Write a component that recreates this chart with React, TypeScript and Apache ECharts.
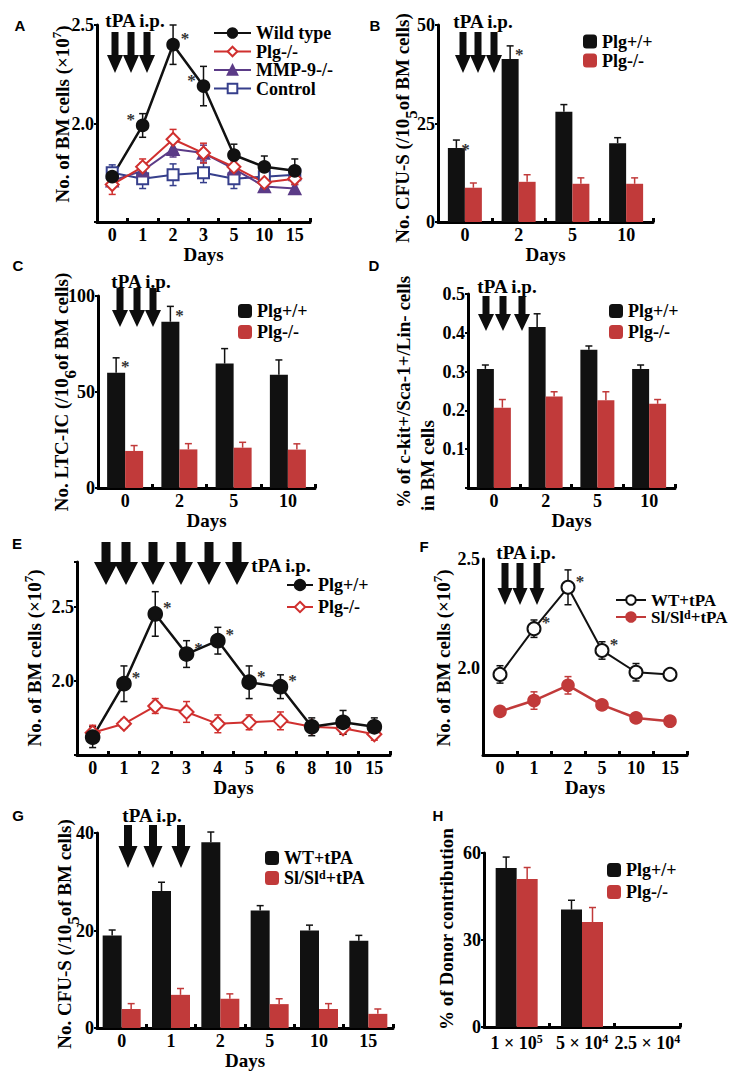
import React, { useEffect, useRef } from "react";
import * as echarts from "echarts";

// ---------- DATA ----------
// Panel A
const daysA = ["0", "1", "2", "3", "5", "10", "15"];
const aWild = [1.73, 1.99, 2.4, 2.19, 1.84, 1.78, 1.76];
const aWildErr = [0.03, 0.06, 0.1, 0.1, 0.055, 0.055, 0.06];
const aPlg = [1.69, 1.78, 1.92, 1.85, 1.78, 1.7, 1.72];
const aPlgErr = [0.05, 0.04, 0.05, 0.05, 0.04, 0.03, 0.03];
const aMmp = [1.71, 1.76, 1.87, 1.85, 1.77, 1.68, 1.67];
const aMmpErr = [0.03, 0.04, 0.04, 0.04, 0.04, 0.02, 0.02];
const aCtrl = [1.75, 1.72, 1.74, 1.75, 1.72, 1.73, 1.74];
const aCtrlErr = [0.04, 0.05, 0.055, 0.05, 0.05, 0.03, 0.03];
const aStars = [0, -1, 1, -1, 0, 0, 0];

// Panel B
const daysB = ["0", "2", "5", "10"];
const bPos = [18.8, 41.4, 28.0, 20.0];
const bPosErr = [2.0, 3.3, 1.8, 1.4];
const bNeg = [8.7, 10.2, 9.7, 9.7];
const bNegErr = [1.2, 1.8, 1.5, 1.5];
const bStars = [1, 1, 0, 0];

// Panel C
const daysC = ["0", "2", "5", "10"];
const cPos = [60, 86.6, 64.8, 59];
const cPosErr = [7.8, 8, 7.8, 7.7];
const cNeg = [19.3, 20.1, 21, 20];
const cNegErr = [2.8, 3, 2.8, 3];
const cStars = [1, 1, 0, 0];

// Panel D
const daysD = ["0", "2", "5", "10"];
const dPos = [0.307, 0.415, 0.356, 0.307];
const dPosErr = [0.01, 0.034, 0.01, 0.01];
const dNeg = [0.207, 0.236, 0.226, 0.217];
const dNegErr = [0.021, 0.012, 0.022, 0.011];

// Panel E
const daysE = ["0", "1", "2", "3", "4", "5", "6", "8", "10", "15"];
const ePos = [1.62, 1.98, 2.45, 2.18, 2.27, 1.99, 1.96, 1.69, 1.72, 1.69];
const ePosErr = [0.07, 0.12, 0.15, 0.09, 0.09, 0.11, 0.08, 0.06, 0.08, 0.06];
const eNeg = [1.65, 1.71, 1.83, 1.79, 1.71, 1.72, 1.73, 1.69, 1.68, 1.64];
const eNegErr = [0.05, 0.03, 0.05, 0.07, 0.06, 0.05, 0.06, 0.03, 0.04, 0.04];
const eStars = [0, 1, 1, 1, 1, 1, 1, 0, 0, 0];

// Panel F
const daysF = ["0", "1", "2", "5", "10", "15"];
const fWT = [1.97, 2.18, 2.37, 2.08, 1.98, 1.97];
const fWTErr = [0.04, 0.04, 0.08, 0.04, 0.04, 0.01];
const fSl = [1.8, 1.85, 1.92, 1.83, 1.77, 1.755];
const fSlErr = [0.015, 0.04, 0.04, 0.01, 0.01, 0.01];
const fStars = [0, 1, 1, 1, 0, 0];

// Panel G
const daysG = ["0", "1", "2", "5", "10", "15"];
const gWT = [19, 28.1, 38.1, 24.1, 20, 17.9];
const gWTErr = [1.1, 1.8, 2.1, 1.0, 1.1, 1.1];
const gSl = [3.9, 6.8, 6.0, 4.9, 3.9, 2.9];
const gSlErr = [1.1, 1.3, 1.0, 1.1, 1.1, 1.0];

// Panel H
const cellsH = ["1 × 10^5^", "5 × 10^4^", "2.5 × 10^4^"];
const hPos = [54.8, 40.5, null];
const hPosErr = [3.8, 3.2, 0];
const hNeg = [51, 36.2, null];
const hNegErr = [4, 5, 0];

// ---------- STYLE ----------
const SERIF = '"Liberation Serif", "Times New Roman", serif';
const SANS = '"Liberation Sans", Arial, sans-serif';
const BLACK = "#111111";
const RED = "#c13a3a";
const LRED = "#d0302f";
const PURPLE = "#5b3b87";
const NAVY = "#363f8c";

function richText(t: string, k = "s") {
  const parts = t.split("^");
  return parts
    .map((p, i) => (p === "" ? "" : `{${i % 2 ? k : "n"}|${p}}`))
    .join("");
}
function richStyles(fs: number, lh: number) {
  return {
    n: { fontFamily: SERIF, fontWeight: "bold", fontSize: fs, lineHeight: lh, color: "#000" },
    s: { fontFamily: SERIF, fontWeight: "bold", fontSize: Math.round(fs * 0.68), lineHeight: Math.round(fs * 0.7), verticalAlign: "top", color: "#000" },
  };
}
// exponent placed low, as in the original rotated titles "/10^5of"
const lowRich = {
  n: { fontFamily: SERIF, fontWeight: "bold", fontSize: 19, lineHeight: 22, verticalAlign: "top", color: "#000" },
  l: { fontFamily: SERIF, fontWeight: "bold", fontSize: 17, lineHeight: 17, padding: [10, 0, 0, 0], verticalAlign: "top", color: "#000" },
};
function fmtName(n: string) {
  const t = n.split("|")[1];
  return t.indexOf("^") >= 0 ? richText(t) : t;
}

const grids = [
  { left: 97, top: 25, width: 213, height: 197 }, // A
  { left: 438, top: 25, width: 215, height: 197 }, // B
  { left: 98, top: 296, width: 217, height: 192 }, // C
  { left: 468, top: 294, width: 207, height: 194 }, // D
  { left: 77, top: 562, width: 313, height: 193 }, // E
  { left: 483, top: 559, width: 204, height: 196 }, // F
  { left: 97, top: 833, width: 296, height: 195 }, // G
  { left: 484, top: 853, width: 196, height: 174 }, // H
];

function xAx(gi: number, data: string[], extra: any = {}) {
  return {
    type: "category",
    gridIndex: gi,
    data,
    boundaryGap: true,
    axisLine: { onZero: false, lineStyle: { color: "#000", width: 3 } },
    axisTick: { show: true, inside: true, length: 4, interval: 0, lineStyle: { color: "#000", width: 3 } },
    axisLabel: { interval: 0, margin: 4, color: "#000", fontFamily: SERIF, fontWeight: "bold", fontSize: 18 },
    splitLine: { show: false },
    name: "Days",
    nameLocation: "middle",
    nameGap: 19,
    nameTextStyle: { color: "#000", fontFamily: SERIF, fontWeight: "bold", fontSize: 19 },
    ...extra,
  };
}
function yAx(gi: number, min: number, max: number, interval: number, shown: number[] | null, dec: number, ticks = true) {
  return {
    type: "value",
    gridIndex: gi,
    min,
    max,
    interval,
    axisLine: { show: true, onZero: false, lineStyle: { color: "#000", width: 3 } },
    axisTick: { show: ticks, length: 3, lineStyle: { color: "#000", width: 2 } },
    splitLine: { show: false },
    axisLabel: {
      margin: 3,
      color: "#000",
      fontFamily: SERIF,
      fontWeight: "bold",
      fontSize: 18,
      formatter: (v: number) =>
        shown && !shown.some((s) => Math.abs(s - v) < 1e-6) ? "" : v.toFixed(dec),
    },
  };
}
function lineS(name: string, gi: number, data: number[], color: string, symbol: string, size: number, lw: number) {
  return {
    type: "line",
    name,
    xAxisIndex: gi,
    yAxisIndex: gi,
    data,
    symbol,
    symbolSize: size,
    showAllSymbol: true,
    lineStyle: { color, width: lw },
    itemStyle: { color, borderColor: color, borderWidth: 1.6 },
    z: 3,
    emphasis: { disabled: true },
  };
}
function barS(name: string, gi: number, data: (number | null)[], color: string, bw: number) {
  return {
    type: "bar",
    name,
    xAxisIndex: gi,
    yAxisIndex: gi,
    data,
    barWidth: bw,
    barGap: "0%",
    itemStyle: { color },
    z: 2,
    emphasis: { disabled: true },
  };
}
function errS(
  gi: number,
  vals: (number | null)[],
  errs: number[],
  stars: number[] | null,
  color: string,
  offset: number,
  both: boolean
) {
  const data = vals.map((v, i) => [i, v == null ? 0 : v, v == null ? 0 : errs[i], stars ? stars[i] : 0]);
  return {
    type: "custom",
    xAxisIndex: gi,
    yAxisIndex: gi,
    data,
    encode: { x: 0, y: 1 },
    z: both ? 1 : 4,
    silent: true,
    renderItem: (params: any, api: any) => {
      const i = api.value(0);
      const v = api.value(1);
      const e = api.value(2);
      const st = api.value(3);
      const c = api.coord([i, v]);
      const top = api.coord([i, v + e]);
      const bot = api.coord([i, v - e]);
      const x = c[0] + offset;
      const cap = 3.5;
      const ls = { stroke: color, lineWidth: 1.5 };
      const ch: any[] = [];
      if (e > 0) {
        ch.push({ type: "line", shape: { x1: x, y1: both ? bot[1] : c[1], x2: x, y2: top[1] }, style: ls });
        ch.push({ type: "line", shape: { x1: x - cap, y1: top[1], x2: x + cap, y2: top[1] }, style: ls });
        if (both) ch.push({ type: "line", shape: { x1: x - cap, y1: bot[1], x2: x + cap, y2: bot[1] }, style: ls });
      }
      if (st) {
        const sx = both ? c[0] + st * 12 : x + 9;
        const sy = both ? c[1] - 6 : top[1] + 9;
        ch.push({
          type: "text",
          x: sx,
          y: sy,
          style: {
            text: "*",
            fill: "#333",
            font: `bold 17px ${SERIF}`,
            textAlign: "center",
            textVerticalAlign: "middle",
            align: "center",
            verticalAlign: "middle",
          },
        });
      }
      return { type: "group", children: ch };
    },
  };
}
function legend(names: string[], left: number, top: number, o: { w: number; h: number; gap: number; fs: number; lh: number }) {
  return {
    data: names,
    left,
    top,
    orient: "vertical",
    padding: 0,
    itemGap: o.gap,
    itemWidth: o.w,
    itemHeight: o.h,
    selectedMode: false,
    textStyle: { color: "#000", fontFamily: SERIF, fontWeight: "bold", fontSize: o.fs, lineHeight: o.lh, rich: richStyles(o.fs, o.lh) },
    formatter: (n: string) => fmtName(n),
  };
}

function arrow(cx: number, top: number, bottom: number, sw: number, hw: number, hh: number) {
  return {
    type: "polygon",
    silent: true,
    shape: {
      points: [
        [cx - sw / 2, top],
        [cx + sw / 2, top],
        [cx + sw / 2, bottom - hh],
        [cx + hw / 2, bottom - hh],
        [cx, bottom],
        [cx - hw / 2, bottom - hh],
        [cx - sw / 2, bottom - hh],
      ],
    },
    style: { fill: "#0d0d0d" },
  };
}
function txt(text: string, x: number, y: number, font: string, align = "center", rot = 0, rich: any = null) {
  const style: any = {
    text,
    fill: "#000",
    font,
    align,
    verticalAlign: "middle",
    textAlign: align,
    textVerticalAlign: "middle",
  };
  if (rich) style.rich = rich;
  return { type: "text", x, y, rotation: rot, silent: true, style };
}

function buildOption() {
  const TITLE = `bold 19px ${SERIF}`;
  const TPA = `bold 19px ${SERIF}`;
  const LETTER = `bold 15px ${SANS}`;
  const R = Math.PI / 2;
  const rs = richStyles(19, 24);

  const graphic: any[] = [
    // panel letters
    txt("A", 20, 25, LETTER),
    txt("B", 375, 25, LETTER),
    txt("C", 18, 265, LETTER),
    txt("D", 374, 265, LETTER),
    txt("E", 17, 543, LETTER),
    txt("F", 424, 546, LETTER),
    txt("G", 18, 815, LETTER),
    txt("H", 438, 815, LETTER),
    // tPA i.p. labels
    txt("tPA i.p.", 135, 20, TPA),
    txt("tPA i.p.", 483, 21, TPA),
    txt("tPA i.p.", 141, 281, TPA),
    txt("tPA i.p.", 507, 286, TPA),
    txt("tPA i.p.", 281, 565, TPA),
    txt("tPA i.p.", 526, 552, TPA),
    txt("tPA i.p.", 152, 815, TPA),
    // y-axis titles
    txt(richText("No. of BM cells (×10^7^)"), 62, 114, TITLE, "center", R, rs),
    txt(richText("No. CFU-S (/10^5^of BM cells)", "l"), 404, 128, TITLE, "center", R, lowRich),
    txt(richText("No. LTC-IC (/10^6^of BM cells)", "l"), 63, 392, TITLE, "center", R, lowRich),
    txt("% of c-kit+/Sca-1+/Lin- cells", 403, 508, TITLE, "left", R),
    txt("in BM cells", 427, 511, TITLE, "left", R),
    txt(richText("No. of BM cells (×10^7^)"), 34, 658, TITLE, "center", R, rs),
    txt(richText("No. of BM cells (×10^7^)"), 443, 658, TITLE, "center", R, rs),
    txt(richText("No. CFU-S (/10^5^of BM cells)", "l"), 66, 934, TITLE, "center", R, lowRich),
    txt("% of Donor contribution", 446, 929, TITLE, "center", R),
  ];
  // arrows
  [115, 131, 147].forEach((x) => graphic.push(arrow(x, 32, 73, 7, 16, 18)));
  [463, 478, 494].forEach((x) => graphic.push(arrow(x, 32, 73, 7, 16, 18)));
  [120, 137, 153].forEach((x) => graphic.push(arrow(x, 288, 327, 7, 16, 17)));
  [486, 503, 522].forEach((x) => graphic.push(arrow(x, 296, 331, 7, 16, 17)));
  [106, 126, 153, 181, 209, 237].forEach((x) => graphic.push(arrow(x, 542, 585, 9, 24, 23)));
  [505, 520, 537].forEach((x) => graphic.push(arrow(x, 563, 605, 7, 15, 17)));
  [128, 153, 181].forEach((x) => graphic.push(arrow(x, 825, 868, 8, 19, 22)));

  const hLabelRich = richStyles(18, 20);

  const xAxis = [
    xAx(0, daysA),
    xAx(1, daysB),
    xAx(2, daysC),
    xAx(3, daysD),
    xAx(4, daysE),
    xAx(5, daysF),
    xAx(6, daysG, { nameGap: 17 }),
    xAx(7, cellsH, {
      name: "",
      axisLabel: {
        interval: 0,
        margin: 6,
        formatter: (v: string) => richText(v),
        rich: hLabelRich,
      },
    }),
  ];
  const yAxis = [
    yAx(0, 1.5, 2.5, 0.5, [2.0, 2.5], 1),
    yAx(1, 0, 50, 25, null, 0),
    yAx(2, 0, 100, 50, null, 0),
    yAx(3, 0, 0.5, 0.1, [0.1, 0.2, 0.3, 0.4, 0.5], 1),
    yAx(4, 1.5, 2.8, 0.5, [2.0, 2.5], 1),
    yAx(5, 1.6, 2.5, 0.1, [2.0, 2.5], 1, false),
    yAx(6, 0, 40, 20, null, 0),
    yAx(7, 0, 60, 30, null, 0),
  ];

  const series: any[] = [
    // A
    errS(0, aCtrl, aCtrlErr, null, NAVY, 0, true),
    errS(0, aMmp, aMmpErr, null, PURPLE, 0, true),
    errS(0, aPlg, aPlgErr, null, LRED, 0, true),
    errS(0, aWild, aWildErr, aStars, BLACK, 0, true),
    lineS("A|Control", 0, aCtrl, NAVY, "emptyRect", 11, 2),
    lineS("A|MMP-9-/-", 0, aMmp, PURPLE, "triangle", 12, 2),
    lineS("A|Plg-/-", 0, aPlg, LRED, "emptyDiamond", 13, 2),
    lineS("A|Wild type", 0, aWild, BLACK, "circle", 12, 2.5),
    // B
    barS("B|Plg+/+", 1, bPos, BLACK, 17),
    barS("B|Plg-/-", 1, bNeg, RED, 17),
    errS(1, bPos, bPosErr, bStars, BLACK, -8.5, false),
    errS(1, bNeg, bNegErr, null, RED, 8.5, false),
    // C
    barS("C|Plg+/+", 2, cPos, BLACK, 18),
    barS("C|Plg-/-", 2, cNeg, RED, 18),
    errS(2, cPos, cPosErr, cStars, BLACK, -9, false),
    errS(2, cNeg, cNegErr, null, RED, 9, false),
    // D
    barS("D|Plg+/+", 3, dPos, BLACK, 17),
    barS("D|Plg-/-", 3, dNeg, RED, 17),
    errS(3, dPos, dPosErr, null, BLACK, -8.5, false),
    errS(3, dNeg, dNegErr, null, RED, 8.5, false),
    // E
    errS(4, eNeg, eNegErr, null, LRED, 0, true),
    errS(4, ePos, ePosErr, eStars, BLACK, 0, true),
    lineS("E|Plg-/-", 4, eNeg, LRED, "emptyDiamond", 14, 2),
    lineS("E|Plg+/+", 4, ePos, BLACK, "circle", 14, 2.5),
    // F
    errS(5, fSl, fSlErr, null, RED, 0, true),
    errS(5, fWT, fWTErr, fStars, BLACK, 0, true),
    lineS("F|Sl/Sl^d^+tPA", 5, fSl, RED, "circle", 12, 2.5),
    lineS("F|WT+tPA", 5, fWT, BLACK, "emptyCircle", 13, 2),
    // G
    barS("G|WT+tPA", 6, gWT, BLACK, 19),
    barS("G|Sl/Sl^d^+tPA", 6, gSl, RED, 19),
    errS(6, gWT, gWTErr, null, BLACK, -9.5, false),
    errS(6, gSl, gSlErr, null, RED, 9.5, false),
    // H
    barS("H|Plg+/+", 7, hPos, BLACK, 21),
    barS("H|Plg-/-", 7, hNeg, RED, 21),
    errS(7, hPos, hPosErr, null, BLACK, -10.5, false),
    errS(7, hNeg, hNegErr, null, RED, 10.5, false),
  ];

  const legends = [
    legend(["A|Wild type", "A|Plg-/-", "A|MMP-9-/-", "A|Control"], 213, 24, { w: 37, h: 12, gap: 0.5, fs: 18, lh: 18 }),
    legend(["B|Plg+/+", "B|Plg-/-"], 583, 32.5, { w: 14, h: 14, gap: 1, fs: 18, lh: 18 }),
    legend(["C|Plg+/+", "C|Plg-/-"], 238, 302, { w: 14, h: 14, gap: 3, fs: 18, lh: 18 }),
    legend(["D|Plg+/+", "D|Plg-/-"], 609, 302, { w: 14, h: 14, gap: 3, fs: 18, lh: 18 }),
    legend(["E|Plg+/+", "E|Plg-/-"], 286, 576, { w: 26, h: 13, gap: 4, fs: 18, lh: 18 }),
    legend(["F|WT+tPA", "F|Sl/Sl^d^+tPA"], 615, 591.5, { w: 30, h: 12, gap: 0, fs: 17, lh: 17 }),
    legend(["G|WT+tPA", "G|Sl/Sl^d^+tPA"], 265, 849, { w: 14, h: 14, gap: 2, fs: 18, lh: 18 }),
    legend(["H|Plg+/+", "H|Plg-/-"], 607, 861, { w: 14, h: 14, gap: 4, fs: 18, lh: 18 }),
  ];

  return {
    animation: false,
    backgroundColor: "#fff",
    grid: grids.map((g) => ({ ...g, containLabel: false })),
    xAxis,
    yAxis,
    series,
    legend: legends,
    graphic: { elements: graphic },
  };
}

export default function App() {
  const ref = useRef<HTMLDivElement>(null);
  useEffect(() => {
    if (!ref.current) return;
    const chart = echarts.init(ref.current, null, { renderer: "svg" });
    chart.setOption(buildOption() as any);
    return () => chart.dispose();
  }, []);
  return (
    <div
      ref={ref}
      style={{ position: "absolute", left: 0, top: 0, width: 737, height: 1077, background: "#fff" }}
    />
  );
}
